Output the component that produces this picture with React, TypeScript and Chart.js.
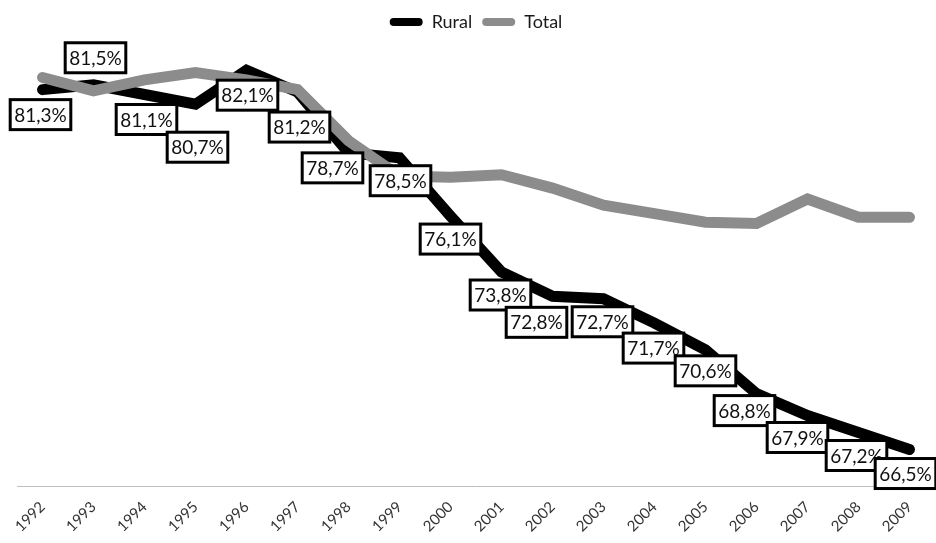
import React, { useEffect, useRef } from "react";
import { Chart, registerables } from "chart.js";

Chart.register(...registerables);

const years = ["1992","1993","1994","1995","1996","1997","1998","1999","2000","2001","2002","2003","2004","2005","2006","2007","2008","2009"];
const rural = [81.3, 81.5, 81.1, 80.7, 82.1, 81.2, 78.7, 78.5, 76.1, 73.8, 72.8, 72.7, 71.7, 70.6, 68.8, 67.9, 67.2, 66.5];
const total = [81.8, 81.25, 81.7, 82.0, 81.7, 81.3, 79.2, 77.75, 77.7, 77.8, 77.25, 76.55, 76.2, 75.85, 75.8, 76.8, 76.05, 76.05];

// label placement relative to each Rural point (layout only)
const labelOffsets: [number, number][] = [
  [-2, 25], [2, -27], [2, 25], [2, 43], [1, 25], [2, 35], [-16, 15], [1, 23], [0, 23],
  [-1, 23], [-16, 26], [-1, 23], [-1, 25], [0, 21], [-12, 17], [-10, 22], [-2, 23], [-4, 24],
];

const FONT = "Lato, 'Open Sans', sans-serif";

const boxLabels = {
  id: "boxLabels",
  afterDatasetsDraw(chart: any) {
    const meta = chart.getDatasetMeta(0);
    const ctx = chart.ctx;
    ctx.save();
    ctx.font = `19px ${FONT}`;
    ctx.textAlign = "center";
    ctx.textBaseline = "middle";
    meta.data.forEach((pt: any, i: number) => {
      const v = rural[i];
      const text = v.toFixed(1).replace(".", ",") + "%";
      const [dx, dy] = labelOffsets[i];
      const cx = pt.x + dx;
      const cy = pt.y + dy;
      const w = ctx.measureText(text).width + 8;
      const h = 30;
      ctx.fillStyle = "#ffffff";
      ctx.fillRect(cx - w / 2, cy - h / 2, w, h);
      ctx.lineWidth = 3;
      ctx.strokeStyle = "#000000";
      ctx.strokeRect(cx - w / 2, cy - h / 2, w, h);
      ctx.fillStyle = "#111111";
      ctx.fillText(text, cx, cy + 1);
    });
    ctx.restore();
  },
};

export default function App() {
  const ref = useRef<HTMLCanvasElement | null>(null);
  useEffect(() => {
    if (!ref.current) return;
    const chart = new Chart(ref.current, {
      type: "line",
      data: {
        labels: years,
        datasets: [
          {
            label: "Rural",
            data: rural,
            borderColor: "#000000",
            backgroundColor: "#000000",
            borderWidth: 11,
            pointRadius: 0,
            borderCapStyle: "round",
            borderJoinStyle: "miter",
            tension: 0,
            order: 1,
          },
          {
            label: "Total",
            data: total,
            borderColor: "#8c8c8c",
            backgroundColor: "#8c8c8c",
            borderWidth: 11,
            pointRadius: 0,
            borderCapStyle: "round",
            borderJoinStyle: "miter",
            tension: 0,
            order: 0,
          },
        ],
      },
      options: {
        animation: false,
        responsive: true,
        maintainAspectRatio: false,
        layout: { padding: { top: 3, left: 17, right: 1, bottom: 0 } },
        plugins: {
          tooltip: { enabled: false },
          legend: {
            position: "top",
            reverse: true,
            labels: {
              font: { family: FONT, size: 18 },
              color: "#1a1a1a",
              boxWidth: 33,
              boxHeight: 8,
              useBorderRadius: true,
              borderRadius: 4,
              padding: 10,
              generateLabels: (c: any) =>
                Chart.defaults.plugins.legend.labels
                  .generateLabels(c)
                  .map((l: any) => ({ ...l, lineWidth: 0, fillStyle: l.strokeStyle })),
            },
          },
        },
        scales: {
          x: {
            offset: true,
            grid: { display: false, drawTicks: false },
            border: { display: true, color: "#bfbfbf", width: 1 },
            ticks: {
              minRotation: 45,
              maxRotation: 45,
              autoSkip: false,
              padding: 12,
              color: "#333333",
              font: { family: FONT, size: 15 },
            },
            afterFit: (s: any) => {
              s.height = 57;
            },
          },
          y: {
            display: false,
            min: 65,
            max: 83.3,
          },
        },
      },
      plugins: [boxLabels],
    });
    return () => chart.destroy();
  }, []);
  return (
    <div style={{ position: "absolute", left: 0, top: 0, width: 936, height: 543, background: "#fff" }}>
      <canvas ref={ref} />
    </div>
  );
}
